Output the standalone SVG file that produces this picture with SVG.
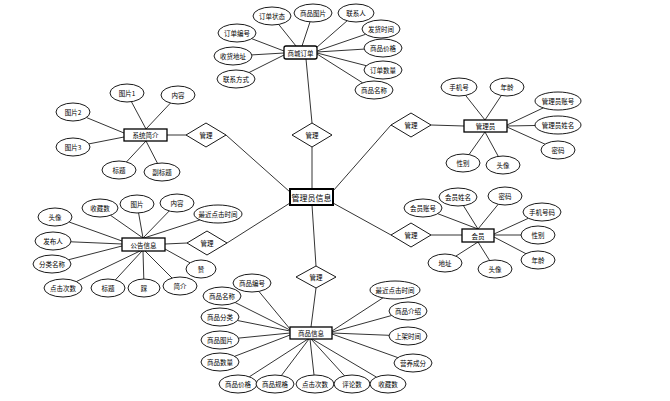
<svg xmlns="http://www.w3.org/2000/svg" width="670" height="401" viewBox="0 0 670 401">
<style>
.c line{stroke:#000;stroke-width:0.8;fill:none}
.a ellipse{fill:#fff;stroke:#000;stroke-width:0.9}
.e rect{fill:#fff;stroke:#000;stroke-width:1.3}
.r polygon{fill:#fff;stroke:#000;stroke-width:0.9}
text{font-family:"Noto Sans CJK SC","Noto Sans",sans-serif;font-size:6.5px;fill:#000;text-anchor:middle;dominant-baseline:central}
.big{font-size:8px}
</style>
<rect width="670" height="401" fill="#fff"/>
<g id="connectors" class="c">
<!-- relations -->
<line x1="306" y1="59" x2="312" y2="123"/>
<line x1="312" y1="147" x2="312" y2="189"/>
<line x1="167" y1="135" x2="186" y2="135"/>
<line x1="226" y1="135" x2="290" y2="192"/>
<line x1="431" y1="125" x2="464" y2="126"/>
<line x1="391" y1="125" x2="333" y2="191"/>
<line x1="165" y1="244" x2="187" y2="243"/>
<line x1="227" y1="243" x2="290" y2="203"/>
<line x1="431" y1="235" x2="462" y2="235"/>
<line x1="391" y1="235" x2="333" y2="203"/>
<line x1="312" y1="205" x2="316" y2="266"/>
<line x1="316" y1="288" x2="311" y2="327"/>
<!-- 商城订单 -->
<line x1="296" y1="46" x2="278.7" y2="24.4"/>
<line x1="302" y1="46" x2="310" y2="21.9"/>
<line x1="316" y1="48" x2="347.1" y2="20.8"/>
<line x1="317" y1="51" x2="365.6" y2="34.3"/>
<line x1="317" y1="52" x2="364.2" y2="49.1"/>
<line x1="317" y1="53" x2="366.3" y2="65.7"/>
<line x1="317" y1="54" x2="362.6" y2="82.8"/>
<line x1="284" y1="51" x2="251.8" y2="38.7"/>
<line x1="284" y1="53" x2="251.9" y2="54.9"/>
<line x1="284" y1="55" x2="249.1" y2="72.5"/>
<!-- 系统简介 -->
<line x1="146" y1="129" x2="131.4" y2="101.7"/>
<line x1="146" y1="129" x2="170.4" y2="103.1"/>
<line x1="124" y1="133" x2="86.4" y2="117.5"/>
<line x1="124" y1="137" x2="88.9" y2="143.9"/>
<line x1="146" y1="141" x2="126.5" y2="161.9"/>
<line x1="146" y1="141" x2="157.5" y2="163.3"/>
<!-- 管理员 -->
<line x1="485" y1="120" x2="465.6" y2="95.4"/>
<line x1="485" y1="120" x2="501.3" y2="95.5"/>
<line x1="507" y1="125" x2="543.3" y2="107.9"/>
<line x1="507" y1="126" x2="535" y2="125.5"/>
<line x1="507" y1="127" x2="545.1" y2="144.2"/>
<line x1="485" y1="132" x2="469" y2="154.6"/>
<line x1="485" y1="132" x2="498.3" y2="156.4"/>
<!-- 公告信息 -->
<line x1="122" y1="241" x2="69.1" y2="222"/>
<line x1="143" y1="238" x2="110.5" y2="215.3"/>
<line x1="143" y1="238" x2="138.6" y2="213"/>
<line x1="143" y1="238" x2="169.2" y2="211"/>
<line x1="144" y1="238" x2="199.9" y2="219.9"/>
<line x1="122" y1="244" x2="70.9" y2="241.8"/>
<line x1="122" y1="246" x2="68.7" y2="259.7"/>
<line x1="140" y1="251" x2="76.3" y2="281.6"/>
<line x1="142" y1="251" x2="115.4" y2="279.9"/>
<line x1="143" y1="251" x2="143.8" y2="279"/>
<line x1="145" y1="251" x2="172" y2="278"/>
<line x1="165" y1="249" x2="190" y2="262.9"/>
<!-- 会员 -->
<line x1="478" y1="229" x2="437.8" y2="213.7"/>
<line x1="478" y1="229" x2="463.4" y2="205.6"/>
<line x1="478" y1="229" x2="498.2" y2="204.3"/>
<line x1="494" y1="234" x2="528.3" y2="218.3"/>
<line x1="494" y1="235" x2="521" y2="235"/>
<line x1="494" y1="237" x2="525.9" y2="253.7"/>
<line x1="478" y1="242" x2="455.9" y2="256.1"/>
<line x1="478" y1="242" x2="489.6" y2="260.5"/>
<!-- 商品信息 -->
<line x1="290" y1="329" x2="258.9" y2="291.4"/>
<line x1="290" y1="330" x2="235.1" y2="302.5"/>
<line x1="290" y1="331" x2="237.5" y2="320.5"/>
<line x1="290" y1="333" x2="238.6" y2="338.1"/>
<line x1="290" y1="335" x2="234.7" y2="356.3"/>
<line x1="308" y1="339" x2="249.3" y2="376.8"/>
<line x1="309" y1="339" x2="281.4" y2="375.5"/>
<line x1="310" y1="339" x2="314" y2="375"/>
<line x1="311" y1="339" x2="344.5" y2="375.8"/>
<line x1="312" y1="339" x2="376.4" y2="377.1"/>
<line x1="332" y1="331" x2="382.9" y2="297.9"/>
<line x1="332" y1="332" x2="391.6" y2="315.5"/>
<line x1="332" y1="333" x2="389.1" y2="335.3"/>
<line x1="332" y1="334" x2="397.8" y2="357.6"/>
</g>

<g id="center" class="e">
<rect x="290" y="189" width="43" height="16" style="stroke-width:2"/>
<text x="311.5" y="197" class="big">管理员信息</text>
</g>

<g id="rel-order" class="r"><polygon points="292,135 312,123 332,135 312,147"/><text x="312" y="135">管理</text></g>
<g id="rel-intro" class="r"><polygon points="186,135 206,123 226,135 206,147"/><text x="206" y="135">管理</text></g>
<g id="rel-admin" class="r"><polygon points="391,125 411,113 431,125 411,137"/><text x="411" y="125">管理</text></g>
<g id="rel-notice" class="r"><polygon points="187,243 207,231 227,243 207,255"/><text x="207" y="243">管理</text></g>
<g id="rel-member" class="r"><polygon points="391,235 411,223 431,235 411,247"/><text x="411" y="235">管理</text></g>
<g id="rel-goods" class="r"><polygon points="296,277 316,266 336,277 316,288"/><text x="316" y="277">管理</text></g>

<g id="order" class="e">
<rect x="284" y="46" width="33" height="13" rx="2"/><text x="300.5" y="52.5">商城订单</text>
<g class="a">
<ellipse cx="272" cy="16" rx="19" ry="9"/><text x="272" y="16">订单状态</text>
<ellipse cx="313" cy="13" rx="19" ry="9"/><text x="313" y="13">商品图片</text>
<ellipse cx="356" cy="13" rx="18" ry="9"/><text x="356" y="13">联系人</text>
<ellipse cx="381" cy="29" rx="19" ry="9"/><text x="381" y="29">发货时间</text>
<ellipse cx="383" cy="48" rx="19" ry="9"/><text x="383" y="48">商品价格</text>
<ellipse cx="383" cy="70" rx="19" ry="9"/><text x="383" y="70">订单数量</text>
<ellipse cx="374" cy="90" rx="19" ry="9"/><text x="374" y="90">商品名称</text>
<ellipse cx="237" cy="33" rx="19" ry="9"/><text x="237" y="33">订单编号</text>
<ellipse cx="233" cy="56" rx="19" ry="9"/><text x="233" y="56">收货地址</text>
<ellipse cx="236" cy="79" rx="19" ry="9"/><text x="236" y="79">联系方式</text>
</g>
</g>

<g id="intro" class="e">
<rect x="124" y="129" width="43" height="12"/><text x="145.5" y="135">系统简介</text>
<g class="a">
<ellipse cx="127" cy="93" rx="17" ry="9"/><text x="127" y="93">图片1</text>
<ellipse cx="178" cy="95" rx="17" ry="9"/><text x="178" y="95">内容</text>
<ellipse cx="73" cy="112" rx="17" ry="9"/><text x="73" y="112">图片2</text>
<ellipse cx="73" cy="147" rx="17" ry="9"/><text x="73" y="147">图片3</text>
<ellipse cx="119" cy="170" rx="17" ry="9"/><text x="119" y="170">标题</text>
<ellipse cx="162" cy="172" rx="18" ry="9"/><text x="162" y="172">副标题</text>
</g>
</g>

<g id="admin" class="e">
<rect x="464" y="120" width="43" height="12"/><text x="485.5" y="126">管理员</text>
<g class="a">
<ellipse cx="459" cy="87" rx="18" ry="9"/><text x="459" y="87">手机号</text>
<ellipse cx="507" cy="87" rx="17" ry="9"/><text x="507" y="87">年龄</text>
<ellipse cx="558" cy="101" rx="23" ry="9"/><text x="558" y="101">管理员账号</text>
<ellipse cx="558" cy="125" rx="23" ry="9"/><text x="558" y="125">管理员姓名</text>
<ellipse cx="558" cy="150" rx="17" ry="9"/><text x="558" y="150">密码</text>
<ellipse cx="463" cy="163" rx="17" ry="9"/><text x="463" y="163">性别</text>
<ellipse cx="503" cy="165" rx="17" ry="9"/><text x="503" y="165">头像</text>
</g>
</g>

<g id="notice" class="e">
<rect x="122" y="238" width="43" height="13"/><text x="143.5" y="244.5">公告信息</text>
<g class="a">
<ellipse cx="55" cy="217" rx="17" ry="9"/><text x="55" y="217">头像</text>
<ellipse cx="100" cy="208" rx="18" ry="9"/><text x="100" y="208">收藏数</text>
<ellipse cx="137" cy="204" rx="17" ry="9"/><text x="137" y="204">图片</text>
<ellipse cx="177" cy="203" rx="17" ry="9"/><text x="177" y="203">内容</text>
<ellipse cx="218" cy="214" rx="24" ry="9"/><text x="218" y="214">最近点击时间</text>
<ellipse cx="53" cy="241" rx="18" ry="9"/><text x="53" y="241">发布人</text>
<ellipse cx="52" cy="264" rx="19" ry="9"/><text x="52" y="264">分类名称</text>
<ellipse cx="63" cy="288" rx="19" ry="9"/><text x="63" y="288">点击次数</text>
<ellipse cx="108" cy="288" rx="17" ry="9"/><text x="108" y="288">标题</text>
<ellipse cx="144" cy="288" rx="16" ry="9"/><text x="144" y="288">踩</text>
<ellipse cx="180" cy="286" rx="17" ry="9"/><text x="180" y="286">简介</text>
<ellipse cx="201" cy="269" rx="15" ry="9"/><text x="201" y="269">赞</text>
</g>
</g>

<g id="member" class="e">
<rect x="462" y="229" width="32" height="13"/><text x="478" y="235.5">会员</text>
<g class="a">
<ellipse cx="423" cy="208" rx="19" ry="9"/><text x="423" y="208">会员账号</text>
<ellipse cx="458" cy="197" rx="19" ry="9"/><text x="458" y="197">会员姓名</text>
<ellipse cx="505" cy="196" rx="17" ry="9"/><text x="505" y="196">密码</text>
<ellipse cx="542" cy="212" rx="19" ry="9"/><text x="542" y="212">手机号码</text>
<ellipse cx="538" cy="235" rx="17" ry="9"/><text x="538" y="235">性别</text>
<ellipse cx="538" cy="260" rx="17" ry="9"/><text x="538" y="260">年龄</text>
<ellipse cx="445" cy="263" rx="17" ry="9"/><text x="445" y="263">地址</text>
<ellipse cx="495" cy="269" rx="17" ry="9"/><text x="495" y="269">头像</text>
</g>
</g>

<g id="goods" class="e">
<rect x="290" y="327" width="42" height="12"/><text x="311" y="333">商品信息</text>
<g class="a">
<ellipse cx="252" cy="283" rx="19" ry="9"/><text x="252" y="283">商品编号</text>
<ellipse cx="222" cy="296" rx="19" ry="9"/><text x="222" y="296">商品名称</text>
<ellipse cx="220" cy="317" rx="19" ry="9"/><text x="220" y="317">商品分类</text>
<ellipse cx="220" cy="340" rx="19" ry="9"/><text x="220" y="340">商品图片</text>
<ellipse cx="220" cy="362" rx="19" ry="9"/><text x="220" y="362">商品数量</text>
<ellipse cx="238" cy="384" rx="19" ry="9"/><text x="238" y="384">商品价格</text>
<ellipse cx="275" cy="384" rx="19" ry="9"/><text x="275" y="384">商品规格</text>
<ellipse cx="315" cy="384" rx="19" ry="9"/><text x="315" y="384">点击次数</text>
<ellipse cx="352" cy="384" rx="18" ry="9"/><text x="352" y="384">评论数</text>
<ellipse cx="388" cy="384" rx="18" ry="9"/><text x="388" y="384">收藏数</text>
<ellipse cx="395" cy="290" rx="25" ry="9"/><text x="395" y="290">最近点击时间</text>
<ellipse cx="408" cy="311" rx="19" ry="9"/><text x="408" y="311">商品介绍</text>
<ellipse cx="408" cy="336" rx="19" ry="9"/><text x="408" y="336">上架时间</text>
<ellipse cx="413" cy="363" rx="19" ry="9"/><text x="413" y="363">营养成分</text>
</g>
</g>
</svg>
